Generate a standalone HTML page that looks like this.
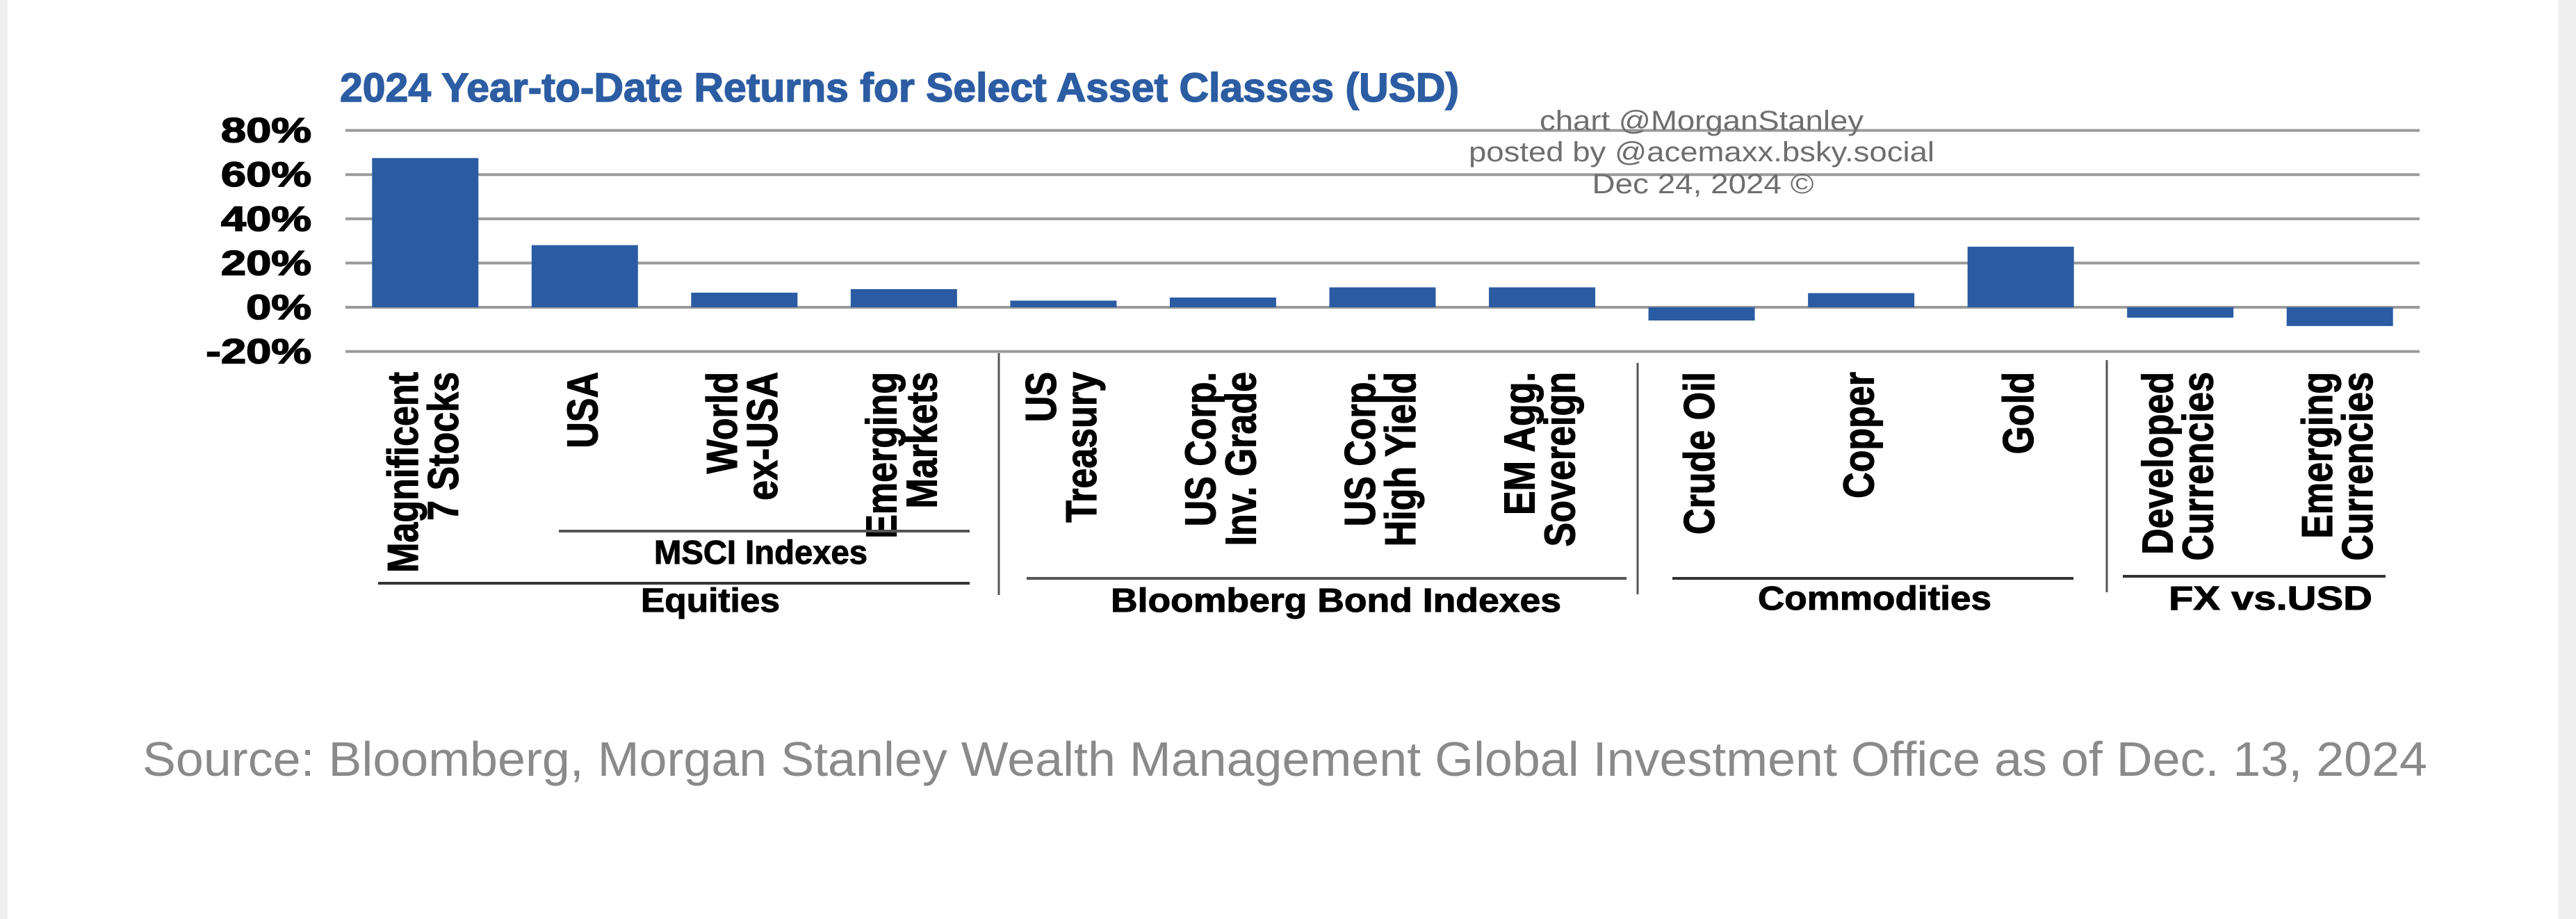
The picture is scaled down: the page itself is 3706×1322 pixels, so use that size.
<!DOCTYPE html>
<html><head><meta charset="utf-8"><style>
html,body{margin:0;padding:0;background:#fff;}
svg{display:block;}
</style></head><body>
<svg width="3706" height="1322" viewBox="0 0 3706 1322" xmlns="http://www.w3.org/2000/svg">
<rect x="0" y="0" width="3706" height="1322" fill="#fff"/>
<rect x="0" y="0" width="11" height="1322" fill="#efefef"/>
<rect x="3680" y="0" width="26" height="1322" fill="#efefef"/>
<text x="489" y="146" font-family="Liberation Sans, sans-serif" font-weight="bold" font-size="58" fill="#2c5da3" stroke="#2c5da3" stroke-width="1.5" textLength="1610" lengthAdjust="spacingAndGlyphs">2024 Year-to-Date Returns for Select Asset Classes (USD)</text>
<g id="grid"></g>
<g id="yticks"></g>
<g id="bars"></g>
<g id="xlabels"></g>
<g font-family="Liberation Sans, sans-serif" font-size="40" fill="#6e6e6e">
<text x="2448" y="187" text-anchor="middle" textLength="466" lengthAdjust="spacingAndGlyphs">chart @MorganStanley</text>
<text x="2448" y="232" text-anchor="middle" textLength="670" lengthAdjust="spacingAndGlyphs">posted by @acemaxx.bsky.social</text>
<text x="2450" y="278" text-anchor="middle" textLength="319" lengthAdjust="spacingAndGlyphs">Dec 24, 2024 ©</text>
</g>
<g stroke-width="4">
<line x1="804" y1="764" x2="1395" y2="764" stroke="#555"/>
<line x1="544" y1="839" x2="1395" y2="839" stroke="#333"/>
<line x1="1477" y1="832" x2="2340" y2="832" stroke="#555"/>
<line x1="2406" y1="832" x2="2983" y2="832" stroke="#333"/>
<line x1="3054" y1="829" x2="3432" y2="829" stroke="#333"/>
<line x1="1437" y1="508" x2="1437" y2="856" stroke="#555" stroke-width="3"/>
<line x1="2356" y1="522" x2="2356" y2="855" stroke="#555" stroke-width="3"/>
<line x1="3031" y1="518" x2="3031" y2="852" stroke="#555" stroke-width="3"/>
</g>
<g font-family="Liberation Sans, sans-serif" font-weight="bold" font-size="48" fill="#000" stroke="#000" stroke-width="1">
<text x="941" y="811" textLength="307" lengthAdjust="spacingAndGlyphs">MSCI Indexes</text>
<text x="922" y="880" textLength="200" lengthAdjust="spacingAndGlyphs">Equities</text>
<text x="1598" y="880" textLength="648" lengthAdjust="spacingAndGlyphs">Bloomberg Bond Indexes</text>
<text x="2529" y="877" textLength="336" lengthAdjust="spacingAndGlyphs">Commodities</text>
<text x="3120" y="877" textLength="293" lengthAdjust="spacingAndGlyphs">FX vs.USD</text>
</g>
<text x="205" y="1116" font-family="Liberation Sans, sans-serif" font-size="70" fill="#8a8a8a" textLength="3287" lengthAdjust="spacingAndGlyphs">Source: Bloomberg, Morgan Stanley Wealth Management Global Investment Office as of Dec. 13, 2024</text>
</svg>
<script>
const categories = [["Magnificent","7 Stocks"],["USA"],["World","ex-USA"],["Emerging","Markets"],["US","Treasury"],["US Corp.","Inv. Grade"],["US Corp.","High Yield"],["EM Agg.","Sovereign"],["Crude Oil"],["Copper"],["Gold"],["Developed","Currencies"],["Emerging","Currencies"]];
const values = [67.5, 28.1, 6.6, 8.2, 3.0, 4.4, 9.0, 9.0, -6.0, 6.4, 27.4, -4.7, -8.5];
const tickValues = [80, 60, 40, 20, 0, -20];
const tickLabels = ["80%","60%","40%","20%","0%","-20%"];

const NS = "http://www.w3.org/2000/svg";
const X0 = 497, X1 = 3481, Y0 = 442, PX = 63.6/20;
const band = (X1 - X0) / categories.length;
function y(v){ return Y0 - v * PX; }
function xc(i){ return X0 + band * (i + 0.5); }
function mk(tag, attrs, parent){ const e = document.createElementNS(NS, tag); for (const k in attrs) e.setAttribute(k, attrs[k]); parent.appendChild(e); return e; }

const grid = document.getElementById('grid');
const yt = document.getElementById('yticks');
tickValues.forEach((t, i) => {
  const l = mk('line', {x1: X0, x2: X1, y1: y(t), y2: y(t), stroke: '#9a9a9a', 'stroke-width': 4}, grid);
  
  
  const g = mk('g', {transform: `translate(448,${y(t) + 17}) scale(1.3,1)`}, yt);
  const tx = mk('text', {x: 0, y: 0, 'text-anchor': 'end', 'font-family': 'Liberation Sans, sans-serif', 'font-weight': 'bold', 'font-size': 50, fill: '#000', stroke: '#000', 'stroke-width': 1.5}, g);
  tx.textContent = tickLabels[i];
  
  
});

const bars = document.getElementById('bars');
const bw = 153;
values.forEach((v, i) => {
  const top = Math.min(y(v), y(0)), h = Math.abs(y(v) - y(0));
  const r = mk('rect', {x: xc(i) - bw / 2, y: top, width: bw, height: h, fill: '#2b5ca3'}, bars);
  
  
});

const xl = document.getElementById('xlabels');
const pitch = 58, sy = 1.2;
categories.forEach((lines, i) => {
  const n = lines.length;
  lines.forEach((ln, j) => {
    const cx = xc(i) + (j - (n - 1) / 2) * pitch + 18;
    const g = mk('g', {transform: `translate(${cx},535) rotate(-90) scale(1,${sy})`}, xl);
    const t = mk('text', {x: 0, y: 0, 'text-anchor': 'end', 'font-family': 'Liberation Sans, sans-serif', 'font-weight': 'bold', 'font-size': 52, fill: '#000', stroke: '#000', 'stroke-width': 1}, g);
    t.textContent = ln;
    
    
  });
});
</script>
</body></html>
